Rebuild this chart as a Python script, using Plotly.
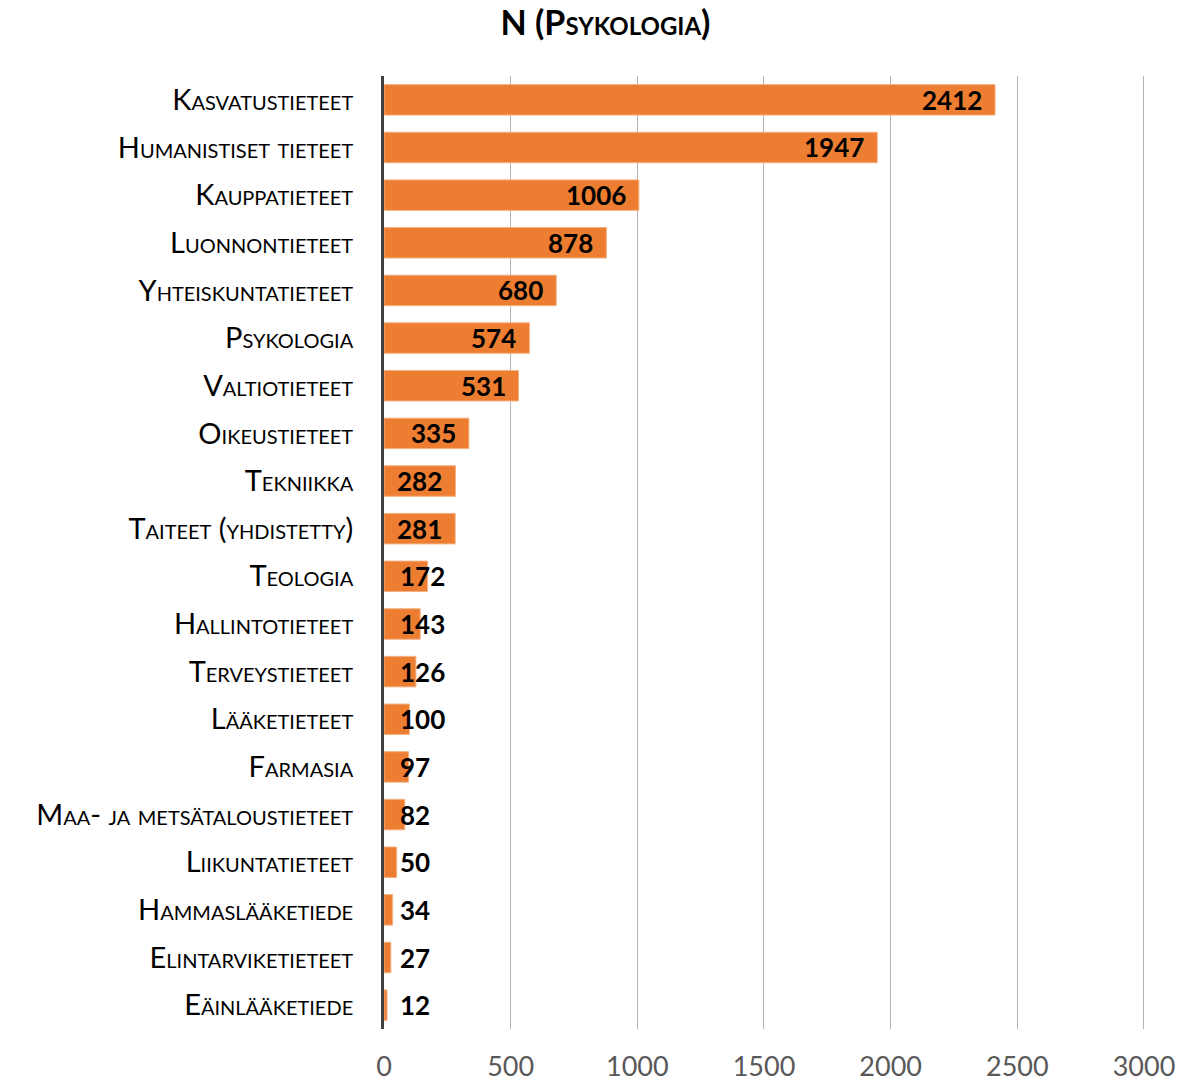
import plotly.graph_objects as go

categories = ["Kasvatustieteet", "Humanistiset tieteet", "Kauppatieteet", "Luonnontieteet",
              "Yhteiskuntatieteet", "Psykologia", "Valtiotieteet", "Oikeustieteet", "Tekniikka",
              "Taiteet (yhdistetty)", "Teologia", "Hallintotieteet", "Terveystieteet",
              "Lääketieteet", "Farmasia", "Maa- ja metsätaloustieteet", "Liikuntatieteet",
              "Hammaslääketiede", "Elintarviketieteet", "Eäinlääketiede"]
values = [2412, 1947, 1006, 878, 680, 574, 531, 335, 282, 281, 172, 143, 126, 100, 97, 82, 50, 34, 27, 12]
x_ticks = [0, 500, 1000, 1500, 2000, 2500, 3000]
title_text = "N (Psykologia)"

FONT = "Lato, 'Open Sans', sans-serif"
ORANGE = "#ED7D31"
FIT_LIMIT = 250  # labels for bars shorter than this go at the bar base

fig = go.Figure()
fig.add_trace(go.Bar(
    y=categories, x=values, orientation="h",
    marker=dict(color=ORANGE, line=dict(color="#F4B183", width=1)),
    width=0.64,
    cliponaxis=False,
))

label_font = dict(family=FONT, size=26, color="black", weight="bold")
annotations = []
for c, v in zip(categories, values):
    if v >= FIT_LIMIT:
        annotations.append(dict(x=v, y=c, xref="x", yref="y", text=str(v), showarrow=False,
                                xanchor="right", xshift=-11, font=label_font))
    else:
        annotations.append(dict(x=0, y=c, xref="x", yref="y", text=str(v), showarrow=False,
                                xanchor="left", xshift=14, font=label_font))

fig.update_layout(
    width=1195, height=1074,
    margin=dict(l=376, r=58, t=68, b=53, autoexpand=False),
    paper_bgcolor="white", plot_bgcolor="white",
    showlegend=False,
    title=dict(text=title_text, x=0.5, xanchor="center", xref="container", y=0.986, yanchor="middle",
               yref="container",
               font=dict(family=FONT, size=34, color="black", weight="bold", variant="small-caps")),
    xaxis=dict(range=[0, 3004], tickvals=x_ticks, ticktext=[str(t) for t in x_ticks],
               showgrid=True, gridcolor="#B4B4B4", gridwidth=1.3, zeroline=False,
               showline=False, ticks="", ticklabelstandoff=19, automargin=False,
               tickfont=dict(family=FONT, size=27, color="#595959")),
    yaxis=dict(autorange="reversed", showgrid=False, zeroline=False,
               showline=True, linecolor="#404040", linewidth=3, ticks="",
               ticklabelstandoff=22, automargin=False,
               tickfont=dict(family=FONT, size=29, color="black", variant="small-caps")),
    annotations=annotations,
)

fig.write_html("out.html")
